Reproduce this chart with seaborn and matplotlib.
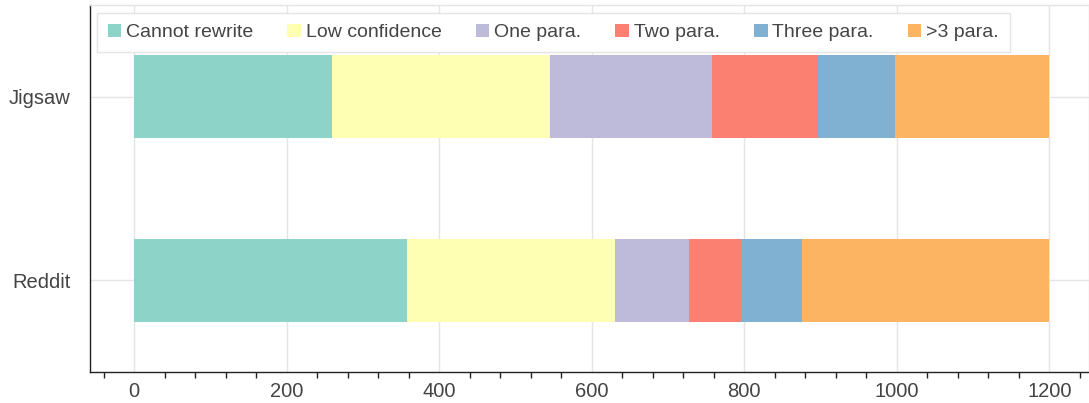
import pandas as pd
import seaborn as sns
import matplotlib.pyplot as plt
from matplotlib.patches import Patch
from matplotlib.ticker import MultipleLocator

# data
sources = ["Jigsaw", "Reddit"]
categories = ["Cannot rewrite", "Low confidence", "One para.", "Two para.", "Three para.", ">3 para."]
jigsaw_counts = [259, 286, 213, 138, 101, 203]
reddit_counts = [358, 273, 97, 68, 79, 325]
colors = ["#8dd3c7", "#ffffb3", "#bebada", "#fb8072", "#80b1d3", "#fdb462"]

df = pd.DataFrame({"source": sources})
for cat, j, r in zip(categories, jigsaw_counts, reddit_counts):
    df[cat] = [j, r]
# cumulative ends, so each segment can be drawn as a bar from 0
cum = df[categories].cumsum(axis=1)
cum["source"] = df["source"]

sns.set_style("white")
plt.rcParams["font.family"] = ["Liberation Sans", "DejaVu Sans"]

fig = plt.figure(figsize=(10.89, 4.03), dpi=100)
ax = fig.add_axes([90 / 1089, 31 / 403, 999 / 1089, 367 / 403])

# draw the longest (cumulative) bars first so shorter ones overlay them
for cat, col in reversed(list(zip(categories, colors))):
    sns.barplot(data=cum, x=cat, y="source", order=sources, color=col,
                width=0.455, saturation=1, ax=ax, linewidth=0)

ax.set_xlim(-58, 1252)
ax.set_ylim(1.5, -0.5)
ax.set_xlabel("")
ax.set_ylabel("")
ax.xaxis.set_major_locator(MultipleLocator(200))
ax.xaxis.set_minor_locator(MultipleLocator(40))

ax.grid(True, which="major", color="#e5e5e5", linewidth=1)
ax.set_axisbelow(True)

for side in ["top", "right"]:
    ax.spines[side].set_color("#e5e5e5")
    ax.spines[side].set_linewidth(1)
for side in ["left", "bottom"]:
    ax.spines[side].set_color("#222222")
    ax.spines[side].set_linewidth(1)

ax.tick_params(axis="x", which="major", direction="out", length=6, width=1,
               color="#222222", labelsize=14.5, labelcolor="#444444", pad=1.5)
ax.tick_params(axis="x", which="minor", direction="out", length=4, width=1,
               color="#222222", bottom=True)
ax.tick_params(axis="y", which="major", direction="out", length=6, width=1,
               color="#222222", labelsize=14.5, labelcolor="#444444", pad=8)

handles = [Patch(facecolor=c, edgecolor="none", label=l) for l, c in zip(categories, colors)]
leg = ax.legend(handles=handles, ncol=6, loc="upper left",
                bbox_to_anchor=(7 / 999, 1 - 8 / 367), borderaxespad=0, fontsize=14,
                frameon=True, fancybox=False, handlelength=0.7, handleheight=0.65,
                handletextpad=0.25, columnspacing=1.75, borderpad=0.55,
                labelcolor="#444444")
leg.get_frame().set_edgecolor("#e5e5e5")
leg.get_frame().set_linewidth(1)
leg.get_frame().set_alpha(1)

fig.savefig("out.png", dpi=100)
plt.close(fig)
